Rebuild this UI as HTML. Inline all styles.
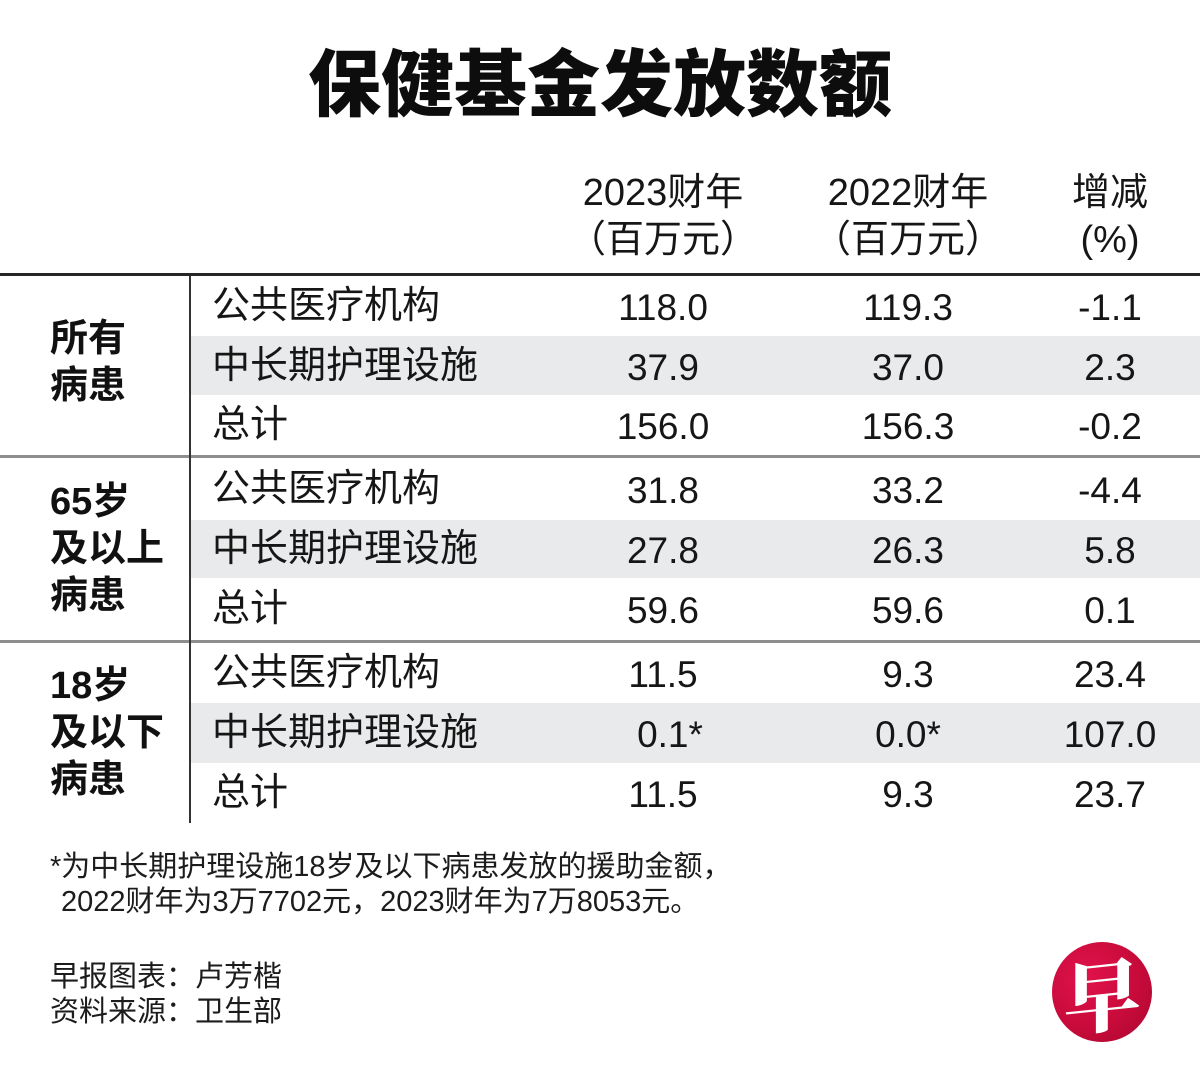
<!DOCTYPE html>
<html><head><meta charset="utf-8">
<style>
html,body{margin:0;padding:0;background:#fff;}
body{width:1200px;height:1088px;position:relative;overflow:hidden;font-family:"Liberation Sans","Noto Sans CJK SC",sans-serif;color:#161616;}
.a{position:absolute;white-space:nowrap;}
.title{left:0;width:1200px;text-align:center;top:41px;height:90px;line-height:90px;font-size:73px;font-weight:900;color:#0d0d0d;}
.h{font-size:38px;height:48px;line-height:48px;width:260px;text-align:center;}
.band{position:absolute;left:191px;width:1009px;background:#e9eaeb;}
.rule{position:absolute;left:0;width:1200px;}
.lab{font-size:38px;left:212px;height:60px;line-height:60px;}
.num{font-size:37px;height:60px;line-height:60px;width:240px;text-align:center;}
.grp{font-size:38px;font-weight:700;left:50px;line-height:47px;color:#111;}
.fn{font-size:29px;line-height:35px;color:#1c1c1c;}
</style></head><body>

<div class="a title">保健基金发放数额</div>

<!-- header -->
<div class="a h" style="left:533px;top:169px;">2023财年</div>
<div class="a h" style="left:533px;top:216px;">（百万元）</div>
<div class="a h" style="left:778px;top:169px;">2022财年</div>
<div class="a h" style="left:778px;top:216px;">（百万元）</div>
<div class="a h" style="left:980px;top:169px;">增减</div>
<div class="a h" style="left:980px;top:216px;">(%)</div>

<!-- bands -->
<div class="band" style="top:336px;height:59px;"></div>
<div class="band" style="top:520px;height:58px;"></div>
<div class="band" style="top:703px;height:60px;"></div>

<!-- rules -->
<div class="rule" style="top:273px;height:3px;background:#262626;"></div>
<div class="rule" style="top:455px;height:3px;background:#8e8e8e;"></div>
<div class="rule" style="top:640px;height:3px;background:#8e8e8e;"></div>
<div style="position:absolute;left:189px;top:276px;width:2px;height:547px;background:#333;"></div>

<!-- group labels -->
<div class="a grp" style="top:316px;">所有<br>病患</div>
<div class="a grp" style="top:479px;">65岁<br>及以上<br>病患</div>
<div class="a grp" style="top:663px;">18岁<br>及以下<br>病患</div>

<!-- row labels -->
<div class="a lab" style="top:276px;">公共医疗机构</div>
<div class="a lab" style="top:336px;">中长期护理设施</div>
<div class="a lab" style="top:395px;">总计</div>
<div class="a lab" style="top:459px;">公共医疗机构</div>
<div class="a lab" style="top:519px;">中长期护理设施</div>
<div class="a lab" style="top:579px;">总计</div>
<div class="a lab" style="top:643px;">公共医疗机构</div>
<div class="a lab" style="top:703px;">中长期护理设施</div>
<div class="a lab" style="top:763px;">总计</div>

<!-- numbers: col centers 663, 908, 1110 -->
<div class="a num" style="left:543px;top:278px;">118.0</div>
<div class="a num" style="left:788px;top:278px;">119.3</div>
<div class="a num" style="left:990px;top:278px;">-1.1</div>

<div class="a num" style="left:543px;top:338px;">37.9</div>
<div class="a num" style="left:788px;top:338px;">37.0</div>
<div class="a num" style="left:990px;top:338px;">2.3</div>

<div class="a num" style="left:543px;top:397px;">156.0</div>
<div class="a num" style="left:788px;top:397px;">156.3</div>
<div class="a num" style="left:990px;top:397px;">-0.2</div>

<div class="a num" style="left:543px;top:461px;">31.8</div>
<div class="a num" style="left:788px;top:461px;">33.2</div>
<div class="a num" style="left:990px;top:461px;">-4.4</div>

<div class="a num" style="left:543px;top:521px;">27.8</div>
<div class="a num" style="left:788px;top:521px;">26.3</div>
<div class="a num" style="left:990px;top:521px;">5.8</div>

<div class="a num" style="left:543px;top:581px;">59.6</div>
<div class="a num" style="left:788px;top:581px;">59.6</div>
<div class="a num" style="left:990px;top:581px;">0.1</div>

<div class="a num" style="left:543px;top:645px;">11.5</div>
<div class="a num" style="left:788px;top:645px;">9.3</div>
<div class="a num" style="left:990px;top:645px;">23.4</div>

<div class="a num" style="left:550px;top:705px;">0.1*</div>
<div class="a num" style="left:788px;top:705px;">0.0*</div>
<div class="a num" style="left:990px;top:705px;">107.0</div>

<div class="a num" style="left:543px;top:765px;">11.5</div>
<div class="a num" style="left:788px;top:765px;">9.3</div>
<div class="a num" style="left:990px;top:765px;">23.7</div>

<!-- footnote -->
<div class="a fn" style="left:50px;top:850px;">*为中长期护理设施18岁及以下病患发放的援助金额，</div>
<div class="a fn" style="left:61px;top:885px;">2022财年为3万7702元，2023财年为7万8053元。</div>

<div class="a fn" style="left:50px;top:960px;line-height:34.5px;">早报图表：卢芳楷<br>资料来源：卫生部</div>

<!-- logo -->
<div style="position:absolute;left:1052px;top:942px;width:100px;height:100px;border-radius:50%;background:radial-gradient(circle at 35% 35%,#e0124a 0%,#c80b3b 55%,#a8062f 100%);overflow:hidden;">
  <div style="position:absolute;left:0;top:0;width:100px;height:100px;line-height:100px;text-align:center;font-family:'Noto Serif CJK SC','Noto Sans CJK SC',serif;font-weight:900;font-size:78px;color:#fff;transform:rotate(-6deg) skewX(-6deg);">早</div>
</div>

</body></html>
